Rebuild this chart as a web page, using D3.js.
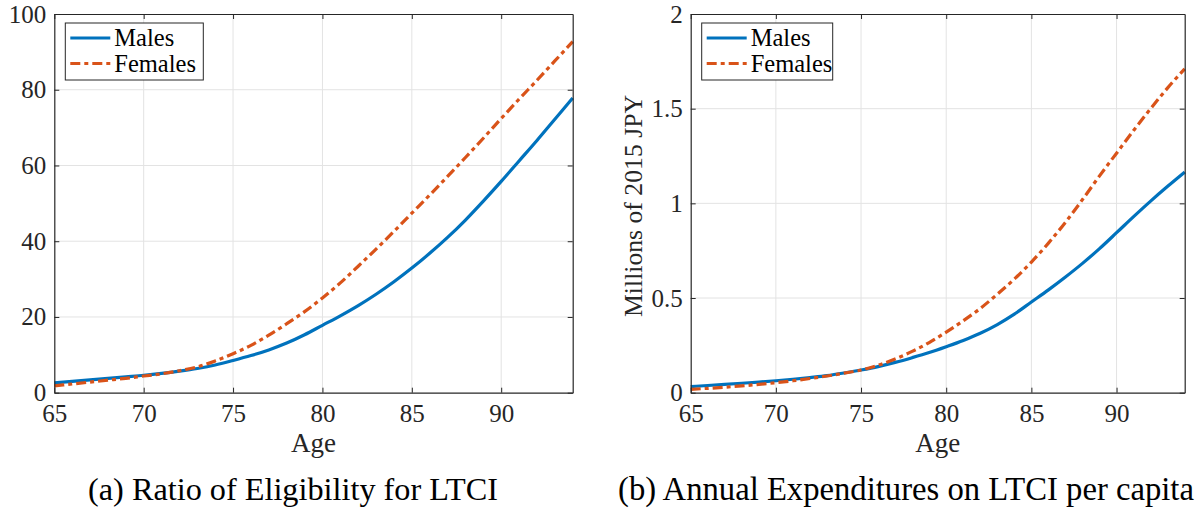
<!DOCTYPE html>
<html>
<head>
<meta charset="utf-8">
<script src="https://cdn.jsdelivr.net/npm/d3@7"></script>
<style>
  body { margin: 0; background: #fff; }
</style>
</head>
<body>
<svg id="chart" width="1200" height="515"></svg>
<script>
var ages = d3.range(65, 95)

// (a) ratio of eligibility, percent
var ratioMales = [2.6, 3.0, 3.4, 3.8, 4.2, 4.6, 5.1, 5.7, 6.4, 7.3, 8.5, 9.8, 11.3, 13.1, 15.3,
    17.8, 20.3, 23.0, 26.0, 29.3, 32.9, 36.8, 41.0, 45.6, 50.6, 55.8, 61.2, 66.6, 72.2, 77.8]
var ratioFemales = [1.8, 2.3, 2.8, 3.3, 3.8, 4.4, 5.0, 5.8, 6.8, 8.4, 10.3, 12.5, 15.2, 18.2, 21.4,
    25.0, 29.0, 33.4, 37.9, 42.6, 47.4, 52.2, 57.1, 62.1, 67.2, 72.4, 77.5, 82.5, 87.6, 92.7]

// (b) annual expenditures, millions of 2015 JPY
var expMales = [0.032, 0.038, 0.044, 0.050, 0.056, 0.063, 0.071, 0.080, 0.090, 0.104, 0.120, 0.138,
    0.160, 0.185, 0.212, 0.243, 0.276, 0.314, 0.360, 0.415, 0.479, 0.543, 0.611, 0.683, 0.761,
    0.845, 0.930, 1.012, 1.090, 1.165]
var expFemales = [0.018, 0.023, 0.029, 0.036, 0.044, 0.053, 0.063, 0.075, 0.088, 0.103, 0.120, 0.145,
    0.178, 0.218, 0.265, 0.320, 0.380, 0.445, 0.520, 0.600, 0.690, 0.790, 0.900, 1.020, 1.145,
    1.265, 1.385, 1.500, 1.610, 1.710]

var xTicks = [65, 70, 75, 80, 85, 90]
var yTicksA = [0, 20, 40, 60, 80, 100]
var yTicksB = [0, 0.5, 1, 1.5, 2]
var seriesNames = ["Males", "Females"]

var blue = "#0072BD"
var orange = "#D95319"
var axisColor = "#262626"
var gridColor = "#e3e3e3"
var serif = '"Liberation Serif"'

var svg = d3.select("#chart")

// stretch a text element to a target width by adjusting its font size
function fitWidth(sel, target) {
    var node = sel.node()
    var fs = parseFloat(sel.style("font-size"))
    var w = node.getComputedTextLength()
    if (w > 0) sel.style("font-size", (fs * target / w) + "px")
}

function drawPanel(opts) {
    var left = opts.left, right = opts.right, top = 14, bottom = 392.7

    var xScale = d3.scaleLinear().domain([65, 94]).range([left, right])
    var yScale = d3.scaleLinear().domain(opts.yDomain).range([bottom, top])

    var g = svg.append("g")

    // grid
    g.selectAll(".gx").data(xTicks.filter(t => t > 65)).enter().append("line")
        .attr("x1", d => xScale(d)).attr("x2", d => xScale(d))
        .attr("y1", top).attr("y2", bottom)
        .attr("stroke", gridColor).attr("stroke-width", 1)
    g.selectAll(".gy").data(opts.yTicks.filter(t => t > opts.yDomain[0] && t < opts.yDomain[1])).enter().append("line")
        .attr("x1", left).attr("x2", right)
        .attr("y1", d => yScale(d)).attr("y2", d => yScale(d))
        .attr("stroke", gridColor).attr("stroke-width", 1)

    // lines
    var line = d3.line().x((d, i) => xScale(ages[i])).y(d => yScale(d)).curve(d3.curveMonotoneX)
    g.append("path").datum(opts.males)
        .attr("d", line).attr("fill", "none")
        .attr("stroke", blue).attr("stroke-width", 3.2)
    g.append("path").datum(opts.females)
        .attr("d", line).attr("fill", "none")
        .attr("stroke", orange).attr("stroke-width", 3.2)
        .attr("stroke-dasharray", "10,4,4,4")

    // axes (box with inward ticks)
    var xAxisB = d3.axisBottom(xScale).tickValues(xTicks).tickSizeInner(-5).tickSizeOuter(0).tickPadding(12)
    var xAxisT = d3.axisTop(xScale).tickValues(xTicks).tickSizeInner(-5).tickSizeOuter(0).tickFormat("")
    var yAxisL = d3.axisLeft(yScale).tickValues(opts.yTicks).tickSizeInner(-5).tickSizeOuter(0).tickPadding(8)
        .tickFormat(d3.format("~g"))
    var yAxisR = d3.axisRight(yScale).tickValues(opts.yTicks).tickSizeInner(-5).tickSizeOuter(0).tickFormat("")

    var axes = [
        g.append("g").attr("transform", `translate(0,${bottom})`).call(xAxisB),
        g.append("g").attr("transform", `translate(0,${top})`).call(xAxisT),
        g.append("g").attr("transform", `translate(${left},0)`).call(yAxisL),
        g.append("g").attr("transform", `translate(${right},0)`).call(yAxisR)
    ]
    axes.forEach(a => {
        a.attr("font-family", null)
        a.select(".domain").attr("stroke", axisColor).attr("stroke-width", 1.2)
        a.selectAll(".tick line").attr("stroke", axisColor)
        a.selectAll("text").style("font-size", "25px").attr("fill", axisColor)
            .style("font-family", serif)
    })

    // x label
    g.append("text")
        .attr("x", (left + right) / 2).attr("y", 452)
        .attr("text-anchor", "middle")
        .style("font-family", serif).style("font-size", "27px").attr("fill", axisColor)
        .text("Age")

    // caption
    var cap = g.append("text")
        .attr("x", opts.captionX).attr("y", 500)
        .attr("text-anchor", "middle")
        .style("font-family", serif).style("font-size", "24px").attr("fill", "#000")
        .text(opts.caption)
    fitWidth(cap, opts.captionW)

    // legend
    var lx = left + 11, ly = 23
    g.append("rect")
        .attr("x", lx).attr("y", ly).attr("width", opts.legendW).attr("height", 57)
        .attr("fill", "#fff").attr("stroke", axisColor).attr("stroke-width", 1)
    var colors = [blue, orange]
    seriesNames.forEach((name, i) => {
        var yy = ly + 15 + i * 25.5
        g.append("line")
            .attr("x1", lx + 5).attr("x2", lx + 45)
            .attr("y1", yy).attr("y2", yy)
            .attr("stroke", colors[i]).attr("stroke-width", 3.2)
            .attr("stroke-dasharray", i == 1 ? "10,4,4,4" : null)
        g.append("text")
            .attr("x", lx + 49).attr("y", yy + 8)
            .style("font-family", serif).style("font-size", "24.5px").attr("fill", "#000")
            .text(name)
    })

    if (opts.yLabel) {
        var yl = g.append("text")
            .attr("transform", `translate(642,${206}) rotate(-90)`)
            .attr("text-anchor", "middle")
            .style("font-family", serif).style("font-size", "25px").attr("fill", axisColor)
            .text(opts.yLabel)
        fitWidth(yl, 222)
    }
}

drawPanel({
    left: 54.3, right: 572.7,
    yDomain: [0, 100], yTicks: yTicksA,
    males: ratioMales, females: ratioFemales,
    caption: "(a) Ratio of Eligibility for LTCI", captionX: 293, captionW: 410,
    legendW: 138
})

drawPanel({
    left: 690.7, right: 1184.7,
    yDomain: [0, 2], yTicks: yTicksB,
    males: expMales, females: expFemales,
    caption: "(b) Annual Expenditures on LTCI per capita", captionX: 906, captionW: 576,
    legendW: 131,
    yLabel: "Millions of 2015 JPY"
})
</script>
</body>
</html>
